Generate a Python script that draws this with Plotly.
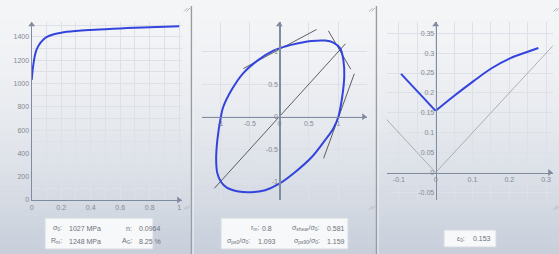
import plotly.graph_objects as go

# ---------------- data ----------------
# Panel 1: flow curve
flow_strain = [0.0, 0.005, 0.01, 0.02, 0.03, 0.04, 0.06, 0.08, 0.10, 0.15, 0.20,
               0.30, 0.40, 0.50, 0.60, 0.70, 0.80, 0.90, 1.00]
flow_stress = [1030, 1100, 1150, 1230, 1280, 1310, 1350, 1378, 1398, 1422, 1436,
               1450, 1459, 1466, 1472, 1478, 1483, 1487, 1492]
p1_xticks = [0, 0.2, 0.4, 0.6, 0.8, 1]
p1_xlabels = ["0", "0.2", "0.4", "0.6", "0.8", "1"]
p1_yticks = [0, 200, 400, 600, 800, 1000, 1200, 1400]
p1_ylabels = ["0", "200", "400", "600", "800", "1000", "1200", "1400"]

# Panel 2: yield locus
locus_x = [1.0, 1.057, 1.10, 1.085, 1.03, 0.915, 0.775, 0.55, 0.32, 0.097, -0.10,
           -0.36, -0.61, -0.81, -0.95, -0.99, -1.05, -1.07, -1.05, -0.99, -0.89,
           -0.69, -0.47, -0.24, 0.0, 0.27, 0.55, 0.775, 0.915, 1.0]
locus_y = [0.0, 0.257, 0.62, 0.87, 1.05, 1.14, 1.17, 1.165, 1.13, 1.08, 1.015,
           0.87, 0.67, 0.41, 0.15, 0.0, -0.36, -0.67, -0.87, -1.0, -1.09,
           -1.15, -1.16, -1.13, -1.03, -0.85, -0.62, -0.36, -0.18, 0.0]
diag_x = [-1.10, 1.12]
diag_y = [-1.10, 1.12]
tangent1_x = [-0.61, 0.63]
tangent1_y = [0.74, 1.34]
tangent2_x = [0.83, 1.21]
tangent2_y = [1.32, 0.73]
tangent3_x = [1.27, 0.75]
tangent3_y = [0.66, -0.64]
p2_ticks = [-1, -0.5, 0, 0.5, 1]
p2_labels = ["-1", "-0.5", "0", "0.5", "1"]

# Panel 3: forming limit curve
flc_left_x = [-0.094, 0.0]
flc_left_y = [0.248, 0.155]
flc_right_x = [0.0, 0.048, 0.102, 0.152, 0.202, 0.252, 0.279]
flc_right_y = [0.155, 0.191, 0.229, 0.262, 0.287, 0.304, 0.313]
ref_x = [-0.2, 0.0, 0.4]
ref_y = [0.2, 0.0, 0.4]
p3_xticks = [-0.1, 0, 0.1, 0.2, 0.3]
p3_xlabels = ["-0.1", "0", "0.1", "0.2", "0.3"]
p3_yticks = [-0.05, 0, 0.05, 0.1, 0.15, 0.2, 0.25, 0.3, 0.35]
p3_ylabels = ["-0.05", "0", "0.05", "0.1", "0.15", "0.2", "0.25", "0.3", "0.35"]

# info box texts
box1 = [("σ<sub>0</sub>:", "1027 MPa", "n:", "0.0964"),
        ("R<sub>m</sub>:", "1248 MPa", "A<sub>G</sub>:", "8.25 %")]
box2 = [("r<sub>m</sub>:", "0.8", "σ<sub>shear</sub>/σ<sub>0</sub>:", "0.581"),
        ("σ<sub>ps0</sub>/σ<sub>0</sub>:", "1.093", "σ<sub>ps90</sub>/σ<sub>0</sub>:", "1.159")]
box3 = ("ε<sub>0</sub>:", "0.153")

# ---------------- styling ----------------
W, H = 559, 254
BLUE = "#3344dd"
AXIS = "#7f8ca0"
GRID = "#dde1e7"
TICKC = "#838a95"
TXT = "#6c727c"
FONT = "Liberation Sans"


def px(x):
    return x / W


def py(y):
    return 1 - y / H


panels = [
    dict(x0=31.7, x1=181.7, y0=21.7, y1=200.0, xr=[0.0, 1.017], yr=[0.0, 1530.0]),
    dict(x0=201.7, x1=366.7, y0=21.7, y1=200.0, xr=[-1.315, 1.48], yr=[-1.28, 1.46]),
    dict(x0=386.7, x1=552.7, y0=21.7, y1=200.0, xr=[-0.133, 0.318], yr=[-0.069, 0.379]),
]

fig = go.Figure()

# curves
fig.add_trace(go.Scatter(x=flow_strain, y=flow_stress, mode="lines", line=dict(color=BLUE, width=2, shape="spline"),
                         xaxis="x", yaxis="y", hoverinfo="skip"))

for tx, ty in [(diag_x, diag_y), (tangent1_x, tangent1_y), (tangent2_x, tangent2_y), (tangent3_x, tangent3_y)]:
    fig.add_trace(go.Scatter(x=tx, y=ty, mode="lines", line=dict(color="#3a3a3a", width=0.8),
                             xaxis="x2", yaxis="y2", hoverinfo="skip", cliponaxis=True))
fig.add_trace(go.Scatter(x=locus_x, y=locus_y, mode="lines", line=dict(color=BLUE, width=2, shape="spline", smoothing=1.0),
                         xaxis="x2", yaxis="y2", hoverinfo="skip"))

fig.add_trace(go.Scatter(x=ref_x, y=ref_y, mode="lines", line=dict(color="#a0a0a0", width=0.8),
                         xaxis="x3", yaxis="y3", hoverinfo="skip"))
fig.add_trace(go.Scatter(x=flc_left_x, y=flc_left_y, mode="lines", line=dict(color=BLUE, width=2),
                         xaxis="x3", yaxis="y3", hoverinfo="skip"))
fig.add_trace(go.Scatter(x=flc_right_x, y=flc_right_y, mode="lines", line=dict(color=BLUE, width=2, shape="spline"),
                         xaxis="x3", yaxis="y3", hoverinfo="skip"))

# axis arrowheads
ARW = 6
for i, p in enumerate(panels):
    sx = "" if i == 0 else str(i + 1)
    dx = (p["xr"][1] - p["xr"][0]) / (p["x1"] - p["x0"])
    dy = (p["yr"][1] - p["yr"][0]) / (p["y1"] - p["y0"])
    fig.add_trace(go.Scatter(
        x=[p["xr"][1] - (ARW / 2) * dx, 0.0],
        y=[0.0, p["yr"][1] - (ARW / 2) * dy],
        mode="markers", marker=dict(symbol=["triangle-right", "triangle-up"], size=ARW, color=AXIS, line=dict(width=0)),
        xaxis="x" + sx, yaxis="y" + sx, hoverinfo="skip", cliponaxis=False))

tickfont = dict(family=FONT, size=7, color=TICKC)


def common(ticks, labels, minor, anchor, position):
    d = dict(tickmode="array", tickvals=ticks, ticktext=labels,
             showgrid=True, gridcolor=GRID, gridwidth=1, zeroline=False, showline=True, linecolor=AXIS, linewidth=1.2,
             ticks="", tickfont=tickfont, fixedrange=True, automargin=False,
             minor=dict(tickmode="linear", tick0=0, dtick=minor, showgrid=True, gridcolor=GRID, gridwidth=1, ticks=""),
             anchor=anchor)
    if position is not None:
        d["position"] = position
    return d


def xaxis(p, ticks, labels, minor, anchor, position=None):
    d = common(ticks, labels, minor, anchor, position)
    d.update(domain=[px(p["x0"]), px(p["x1"])], range=p["xr"])
    return d


def yaxis(p, ticks, labels, minor, anchor, position=None):
    d = common(ticks, labels, minor, anchor, position)
    d.update(domain=[py(p["y1"]), py(p["y0"])], range=p["yr"])
    return d


def zero_pos(p):
    zx = p["x0"] + (0 - p["xr"][0]) / (p["xr"][1] - p["xr"][0]) * (p["x1"] - p["x0"])
    zy = p["y1"] - (0 - p["yr"][0]) / (p["yr"][1] - p["yr"][0]) * (p["y1"] - p["y0"])
    return px(zx), py(zy)


p1, p2, p3 = panels
z2x, z2y = zero_pos(p2)
z3x, z3y = zero_pos(p3)

layout = dict(
    width=W, height=H, margin=dict(l=0, r=0, t=0, b=0, autoexpand=False), showlegend=False,
    paper_bgcolor="#eef0f3", plot_bgcolor="#f3f5f8",
    xaxis=xaxis(p1, p1_xticks, p1_xlabels, 0.1, "y"),
    yaxis=yaxis(p1, p1_yticks, p1_ylabels, 100, "x"),
    xaxis2=xaxis(p2, p2_ticks, p2_labels, 0.5, "free", z2y),
    yaxis2=yaxis(p2, p2_ticks, p2_labels, 0.5, "free", z2x),
    xaxis3=xaxis(p3, p3_xticks, p3_xlabels, 0.05, "free", z3y),
    yaxis3=yaxis(p3, p3_yticks, p3_ylabels, 0.05, "free", z3x),
)
fig.update_layout(**layout)

# background gradient bands
shapes = []
N = 40
c_top = (244, 245, 247)
c_bot = (199, 206, 218)
for k in range(N):
    t = ((k + 0.5) / N) ** 1.6
    c = tuple(int(round(c_top[j] + (c_bot[j] - c_top[j]) * t)) for j in range(3))
    shapes.append(dict(type="rect", xref="paper", yref="paper", x0=0, x1=1,
                       y0=py((k + 1) * H / N + 0.5), y1=py(k * H / N),
                       fillcolor="rgb(%d,%d,%d)" % c, line=dict(width=0), layer="below"))

# panel separators
for sx in [191.5, 376.5]:
    shapes.append(dict(type="line", xref="paper", yref="paper", x0=px(sx), x1=px(sx), y0=0, y1=py(6),
                       line=dict(color="#989ca3", width=1.5)))
    shapes.append(dict(type="line", xref="paper", yref="paper", x0=px(sx + 1.5), x1=px(sx + 1.5), y0=0, y1=py(6),
                       line=dict(color="#f3f4f6", width=1)))

# resize grips
for gx, gy in [(186.5, 9), (186.5, 207), (371.5, 9), (371.5, 207), (556, 9), (556, 207)]:
    for off in [0, 2.5]:
        shapes.append(dict(type="line", xref="paper", yref="paper",
                           x0=px(gx - 2.5 + off), y0=py(gy + 2.5), x1=px(gx + 1 + off), y1=py(gy - 1),
                           line=dict(color="#b3b7bd", width=1)))

# info boxes
for bx0, bx1, by0, by1 in [(45, 153, 218, 249), (221, 348, 218, 249), (444, 496, 230, 247)]:
    shapes.append(dict(type="rect", xref="paper", yref="paper", x0=px(bx0), x1=px(bx1), y0=py(by1), y1=py(by0),
                       fillcolor="#f7f8f9", line=dict(color="#d6dae0", width=1)))
fig.update_layout(shapes=shapes)

ann = []
tf = dict(family=FONT, size=7, color=TXT)


def label(x, y, text, anchor):
    ann.append(dict(xref="paper", yref="paper", x=px(x), y=py(y), text=text, showarrow=False,
                    xanchor=anchor, yanchor="middle", font=tf))


rows_y = [228, 241]
for r, (l1, v1, l2, v2) in enumerate(box1):
    label(64, rows_y[r], l1, "right")
    label(67, rows_y[r], v1, "left")
    label(134, rows_y[r], l2, "right")
    label(137, rows_y[r], v2, "left")

label(261, rows_y[0], box2[0][0], "right")
label(274, rows_y[0], box2[0][1], "right")
label(322, rows_y[0], box2[0][2], "right")
label(325, rows_y[0], box2[0][3], "left")
label(252, rows_y[1], box2[1][0], "right")
label(256, rows_y[1], box2[1][1], "left")
label(322, rows_y[1], box2[1][2], "right")
label(325, rows_y[1], box2[1][3], "left")

label(467, 238.5, box3[0], "right")
label(471, 238.5, box3[1], "left")

fig.update_layout(annotations=ann)

fig.write_html("out.html", config={"displayModeBar": False, "staticPlot": True},
               post_script="document.body.style.margin='0';document.body.style.overflow='hidden';")
